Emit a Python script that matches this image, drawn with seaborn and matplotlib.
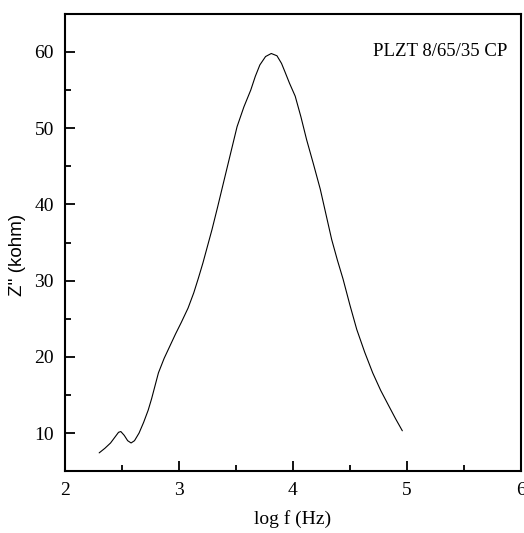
import matplotlib
matplotlib.use("Agg")
from matplotlib import pyplot as plt
from matplotlib.ticker import MultipleLocator
import pandas as pd
import seaborn as sns

log_f = [2.30, 2.35, 2.40, 2.44, 2.47, 2.49, 2.52, 2.55, 2.58, 2.61, 2.65, 2.69,
         2.73, 2.76, 2.79, 2.82, 2.87, 2.92, 2.97, 3.02, 3.08, 3.13, 3.17, 3.21,
         3.25, 3.29, 3.34, 3.39, 3.45, 3.51, 3.57, 3.63, 3.67, 3.71, 3.76, 3.81,
         3.86, 3.90, 3.93, 3.97, 4.02, 4.07, 4.12, 4.18, 4.24, 4.29, 4.34, 4.39,
         4.44, 4.50, 4.56, 4.63, 4.70, 4.77, 4.84, 4.90, 4.96]
z_imag = [7.4, 8.0, 8.7, 9.5, 10.1, 10.2, 9.7, 9.0, 8.7, 9.0, 10.0, 11.4,
          13.0, 14.5, 16.2, 17.9, 19.8, 21.4, 23.0, 24.5, 26.4, 28.4, 30.3, 32.3,
          34.5, 36.7, 39.7, 42.8, 46.5, 50.2, 52.8, 55.0, 56.8, 58.3, 59.4, 59.8,
          59.5, 58.5, 57.4, 55.9, 54.2, 51.5, 48.5, 45.3, 42.0, 38.7, 35.4, 32.7,
          30.2, 26.8, 23.6, 20.6, 17.9, 15.6, 13.6, 11.9, 10.3]
sample_label = "PLZT 8/65/35 CP"

data = pd.DataFrame({"log f (Hz)": log_f, "Z''": z_imag})

sns.set_style("white", {"text.color": "black", "axes.labelcolor": "black",
                        "xtick.color": "black", "ytick.color": "black",
                        "axes.edgecolor": "black"})
plt.rcParams['font.family'] = ['Liberation Serif', 'DejaVu Serif']

fig = plt.figure(figsize=(5.24, 5.33), dpi=100)
ax = fig.add_axes([0.124, 0.116, 0.870, 0.858])

sns.lineplot(data=data, x="log f (Hz)", y="Z''", color="black",
             linewidth=0.8, sort=False, ax=ax)

ax.set_xlim(2, 6)
ax.set_ylim(5, 65)
ax.xaxis.set_major_locator(MultipleLocator(1))
ax.xaxis.set_minor_locator(MultipleLocator(0.5))
ax.yaxis.set_minor_locator(MultipleLocator(5))
ax.set_yticks([10, 20, 30, 40, 50, 60])
ax.tick_params(which="major", direction="in", length=7, width=1.3,
               labelsize=14, pad=8, bottom=True, left=True)
ax.tick_params(which="minor", direction="in", length=4, width=1.3,
               bottom=True, left=True)
for s in ax.spines.values():
    s.set_linewidth(1.5)

ax.set_xlabel("log f (Hz)", fontsize=14, labelpad=8)
ax.set_ylabel("Z'' (kohm)", fontsize=13.5, family=['Liberation Sans', 'DejaVu Sans'])
ax.yaxis.set_label_coords(-0.085, 0.473)

ax.text(5.88, 60, sample_label, ha="right", va="center", fontsize=13.5)

plt.savefig("out.png", dpi=100)
plt.close()
